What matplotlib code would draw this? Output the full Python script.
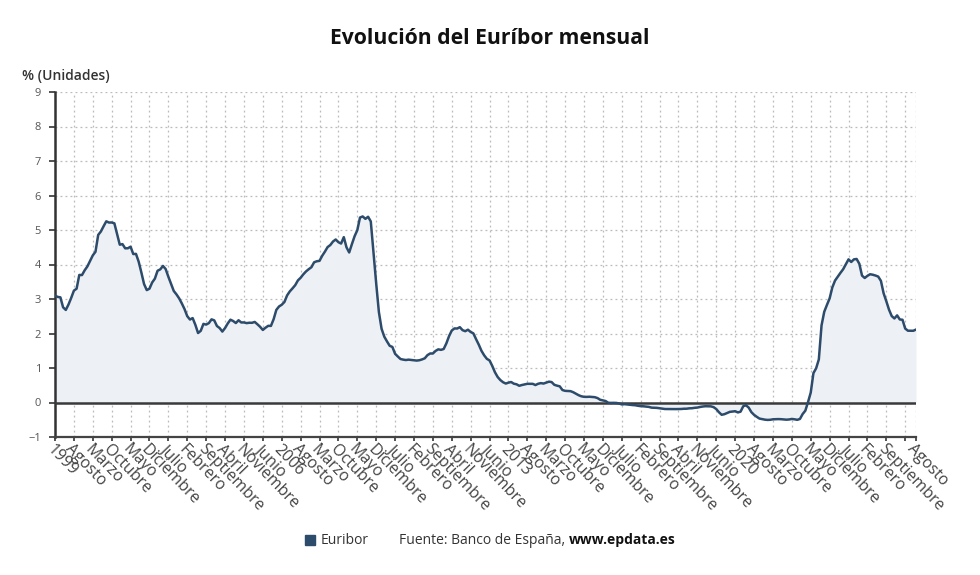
import matplotlib.pyplot as plt
import numpy as np
from matplotlib.patches import Rectangle

plt.rcParams['font.family'] = ['Open Sans', 'DejaVu Sans']

# Euríbor mensual (%), enero 1999 - agosto 2025
euribor = [
    3.095, 3.061, 3.048, 2.759, 2.683, 2.840, 3.032, 3.242, 3.299, 3.697, 3.694, 3.833,  # 1999
    3.945, 4.106, 4.264, 4.369, 4.857, 4.957, 5.109, 5.252, 5.216, 5.218, 5.193, 4.881,  # 2000
    4.574, 4.591, 4.469, 4.471, 4.516, 4.303, 4.308, 4.082, 3.768, 3.433, 3.258, 3.299,  # 2001
    3.479, 3.590, 3.819, 3.859, 3.958, 3.868, 3.645, 3.435, 3.233, 3.134, 3.018, 2.870,  # 2002
    2.706, 2.502, 2.405, 2.447, 2.252, 2.014, 2.078, 2.279, 2.258, 2.301, 2.410, 2.381,  # 2003
    2.217, 2.158, 2.056, 2.158, 2.291, 2.400, 2.362, 2.303, 2.384, 2.320, 2.321, 2.301,  # 2004
    2.312, 2.310, 2.335, 2.267, 2.194, 2.103, 2.168, 2.223, 2.220, 2.414, 2.684, 2.783,  # 2005
    2.833, 2.914, 3.105, 3.221, 3.308, 3.401, 3.539, 3.615, 3.715, 3.799, 3.864, 3.921,  # 2006
    4.064, 4.094, 4.106, 4.253, 4.373, 4.505, 4.564, 4.666, 4.725, 4.647, 4.607, 4.793,  # 2007
    4.498, 4.349, 4.590, 4.820, 4.994, 5.361, 5.393, 5.323, 5.384, 5.248, 4.350, 3.452,  # 2008
    2.622, 2.135, 1.909, 1.771, 1.644, 1.610, 1.412, 1.334, 1.261, 1.243, 1.231, 1.242,  # 2009
    1.232, 1.225, 1.215, 1.225, 1.249, 1.281, 1.373, 1.421, 1.420, 1.495, 1.541, 1.526,  # 2010
    1.550, 1.714, 1.924, 2.086, 2.147, 2.144, 2.183, 2.097, 2.067, 2.110, 2.044, 2.004,  # 2011
    1.837, 1.678, 1.499, 1.368, 1.266, 1.219, 1.061, 0.877, 0.740, 0.650, 0.588, 0.549,  # 2012
    0.575, 0.594, 0.545, 0.528, 0.484, 0.507, 0.525, 0.542, 0.543, 0.541, 0.506, 0.543,  # 2013
    0.562, 0.549, 0.577, 0.604, 0.592, 0.513, 0.488, 0.469, 0.362, 0.338, 0.335, 0.329,  # 2014
    0.298, 0.255, 0.212, 0.180, 0.165, 0.163, 0.167, 0.161, 0.154, 0.128, 0.079, 0.059,  # 2015
    0.042, -0.008, -0.012, -0.010, -0.013, -0.028, -0.056, -0.048, -0.057, -0.069, -0.074, -0.080,  # 2016
    -0.095, -0.106, -0.110, -0.119, -0.127, -0.149, -0.154, -0.156, -0.168, -0.180, -0.189, -0.190,  # 2017
    -0.189, -0.191, -0.191, -0.190, -0.188, -0.181, -0.180, -0.169, -0.166, -0.154, -0.147, -0.129,  # 2018
    -0.116, -0.108, -0.109, -0.112, -0.134, -0.190, -0.283, -0.356, -0.339, -0.304, -0.272, -0.261,  # 2019
    -0.253, -0.288, -0.266, -0.108, -0.081, -0.147, -0.279, -0.358, -0.415, -0.466, -0.481, -0.497,  # 2020
    -0.505, -0.501, -0.487, -0.484, -0.481, -0.484, -0.491, -0.498, -0.492, -0.477, -0.487, -0.502,  # 2021
    -0.477, -0.335, -0.237, 0.013, 0.287, 0.852, 0.992, 1.249, 2.233, 2.629, 2.828, 3.018,  # 2022
    3.337, 3.534, 3.647, 3.757, 3.862, 4.007, 4.149, 4.073, 4.149, 4.160, 4.022, 3.679,  # 2023
    3.609, 3.671, 3.718, 3.703, 3.680, 3.650, 3.526, 3.166, 2.936, 2.691, 2.506, 2.436,  # 2024
    2.525, 2.407, 2.398, 2.143, 2.081, 2.081, 2.079, 2.114,  # 2025
]

meses = ['Enero', 'Febrero', 'Marzo', 'Abril', 'Mayo', 'Junio', 'Julio',
         'Agosto', 'Septiembre', 'Octubre', 'Noviembre', 'Diciembre']
primer_anio = 1999

x = np.arange(len(euribor))
y = np.array(euribor)

# ticks cada 7 meses + el último dato
ticks = list(range(0, len(euribor), 7))
etiquetas = []
for t in ticks:
    anio, mes = divmod(t, 12)
    etiquetas.append(str(primer_anio + anio) if mes == 0 else meses[mes])
if ticks[-1] != len(euribor) - 1:
    etiquetas[-1] = ''  # demasiado cerca del último
    ticks.append(len(euribor) - 1)
    etiquetas.append(meses[(len(euribor) - 1) % 12])

color_linea = '#2d4b6b'
color_texto = '#333333'

fig = plt.figure(figsize=(9.8, 5.75), dpi=100)
ax = fig.add_axes([55/980, 1 - 437/575, (916-55)/980, (437-92)/575])

ax.fill_between(x, y, 0, color='#edf1f5', lw=0)
ax.axhline(0, color='#3a3a3a', lw=1.8, zorder=3)
ax.plot(x, y, color=color_linea, lw=1.8, zorder=4)

ax.set_xlim(0, len(euribor) - 1)
ax.set_ylim(-1, 9)
ax.set_yticks(range(-1, 10))
ax.set_yticklabels(['\u22121' if v == -1 else str(v) for v in range(-1, 10)])
ax.set_xticks(ticks)
ax.set_xticklabels(etiquetas, rotation=-46, ha='left', va='top',
                   rotation_mode='anchor', fontsize=11.5, color='#444444')

ax.grid(True, color='#bbbbbb', linestyle=(0, (1.5, 2.5)), lw=0.9)
ax.set_axisbelow(True)

for s in ['top', 'right']:
    ax.spines[s].set_visible(False)
ax.spines['left'].set_color('#333333')
ax.spines['left'].set_linewidth(1.8)
ax.spines['bottom'].set_color('#444444')
ax.spines['bottom'].set_linewidth(1.6)
ax.tick_params(axis='y', labelsize=8, colors='#555555', length=4, width=1.2, pad=6)
ax.tick_params(axis='y', color='#333333')
ax.tick_params(axis='x', length=3, width=1.2, color='#333333', pad=0)

fig.text(0.5, 1 - 38/575, 'Evolución del Euríbor mensual', ha='center', va='center',
         fontsize=15.2, fontweight='bold', color='#111111')
fig.text(22/980, 1 - 76/575, '% (Unidades)', ha='left', va='center',
         fontsize=10, fontweight='semibold', color=color_texto)

# leyenda y fuente
fig.patches.append(Rectangle((305/980, 1 - 545/575), 10/980, 10/575,
                             transform=fig.transFigure, color=color_linea))
fig.text(321/980, 1 - 540/575, 'Euribor', ha='left', va='center', fontsize=10, color=color_texto)
t1 = fig.text(399/980, 1 - 540/575, 'Fuente: Banco de España, ', ha='left', va='center',
              fontsize=10, color=color_texto)
fig.canvas.draw()
bb = t1.get_window_extent(renderer=fig.canvas.get_renderer())
fig.text(bb.x1 / fig.bbox.width, 1 - 540/575, 'www.epdata.es', ha='left', va='center',
         fontsize=10, fontweight='bold', color='#111111')

fig.savefig('out.png', dpi=100)
